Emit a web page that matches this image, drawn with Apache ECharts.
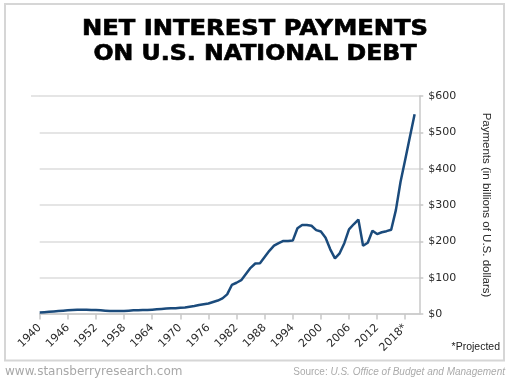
<!DOCTYPE html>
<html>
<head>
<meta charset="utf-8">
<script src="https://cdn.jsdelivr.net/npm/echarts@6/dist/echarts.min.js"></script>
<style>html,body{margin:0;padding:0;background:#fff;}#c{width:510px;height:382px;}</style>
</head>
<body>
<div id="c"></div>
<script>
// Categories: years 1940..2021
var years = [];
for (var y = 1940; y <= 2021; y++) years.push(String(y));

// Net interest payments, billions of USD, 1940..2020
var payments = [
  4, 5, 6, 7, 8, 9, 10, 11, 12, 12,          // 1940-1949
  12, 11, 11, 10, 9, 8, 8, 8, 8, 9,          // 1950-1959
  10, 10, 11, 11, 12, 13, 14, 15, 16, 16,    // 1960-1969
  17, 18, 20, 22, 25, 27, 29, 33, 37, 43,    // 1970-1979
  54, 80, 86, 93, 110, 127, 139, 140, 157, 174, // 1980-1989
  188, 195, 201, 201, 202, 236, 245, 245, 243, 231, // 1990-1999
  227, 210, 178, 153, 167, 195, 233, 247, 260, 188, // 2000-2009
  196, 229, 220, 225, 228, 232, 286, 364, 425, 488, // 2010-2019
  550, null                                    // 2020-2021
];

var yTicks = [0, 100, 200, 300, 400, 500, 600];
var projectedYear = '2018';

var titleLines = ['NET INTEREST PAYMENTS', 'ON U.S. NATIONAL DEBT'];
var titleWidths = [346, 323];

function measure(text, font) {
  var c = document.createElement('canvas').getContext('2d');
  c.font = font;
  return c.measureText(text).width;
}
var titleFont = 'bold 20.5px "DejaVu Sans"';

var chart = echarts.init(document.getElementById('c'), null, {renderer: 'canvas'});
var option = {
  animation: false,
  backgroundColor: '#fff',
  grid: {left: 39.7, right: 90.7, top: 96, bottom: 68},
  xAxis: {
    type: 'category',
    data: years,
    boundaryGap: false,
    axisLine: {lineStyle: {color: '#c8c8c8', width: 1.5}},
    axisTick: {interval: 5, length: 5.5, lineStyle: {color: '#c8c8c8', width: 1.5}},
    axisLabel: {
      interval: 5, rotate: 45, margin: 12, color: '#2a2a2a',
      fontFamily: 'DejaVu Sans', fontSize: 11,
      formatter: function (v) { return v === projectedYear ? v + '*' : v; }
    },
    splitLine: {show: false}
  },
  yAxis: {
    type: 'value',
    position: 'right',
    min: 0, max: 600, interval: 100,
    name: 'Payments (in billions of U.S. dollars)',
    nameLocation: 'middle',
    nameRotate: -90,
    nameGap: 61,
    nameTextStyle: {color: '#2a2a2a', fontFamily: 'Liberation Sans', fontSize: 11.5},
    axisLine: {show: true, lineStyle: {color: '#c8c8c8', width: 1.5}},
    axisTick: {show: true, length: 4, lineStyle: {color: '#c8c8c8', width: 1.5}},
    axisLabel: {
      margin: 9, color: '#2a2a2a', fontFamily: 'DejaVu Sans', fontSize: 11,
      formatter: function (v) { return '$' + v; }
    },
    splitLine: {lineStyle: {color: '#dcdcdc', width: 1.5}}
  },
  series: [{
    type: 'line',
    data: payments,
    showSymbol: false,
    symbol: 'none',
    lineStyle: {color: '#1b4b7c', width: 2.5},
    itemStyle: {color: '#1b4b7c'}
  }],
  graphic: [
    {type: 'rect', shape: {x: 5, y: 4, width: 499, height: 356.5}, style: {fill: 'none', stroke: '#d6d6d6', lineWidth: 2}, z: 0},
    {type: 'line', shape: {x1: 31, y1: 96, x2: 40, y2: 96}, style: {stroke: '#dcdcdc', lineWidth: 1.5}},
    {type: 'text', x: 255, y: 30, scaleX: titleWidths[0] / measure(titleLines[0], titleFont),
      style: {text: titleLines[0], font: titleFont, fill: '#000', stroke: '#000', lineWidth: 0.6, textAlign: 'center', textVerticalAlign: 'middle'}},
    {type: 'text', x: 255, y: 54.5, scaleX: titleWidths[1] / measure(titleLines[1], titleFont),
      style: {text: titleLines[1], font: titleFont, fill: '#000', stroke: '#000', lineWidth: 0.6, textAlign: 'center', textVerticalAlign: 'middle'}},
    {type: 'text', x: 500, y: 347, style: {text: '*Projected', font: '10.5px "Liberation Sans"', fill: '#222', textAlign: 'right', textVerticalAlign: 'middle'}},
    {type: 'text', x: 5, y: 372, style: {text: 'www.stansberryresearch.com', font: '12px "DejaVu Sans"', fill: '#a8a8a8', textAlign: 'left', textVerticalAlign: 'middle'}},
    {type: 'text', x: 505, y: 372, style: {
      text: '{a|Source: }{b|U.S. Office of Budget and Management}',
      textAlign: 'right', textVerticalAlign: 'middle',
      rich: {
        a: {font: '10px "Liberation Sans"', fill: '#ababab', color: '#ababab'},
        b: {font: 'italic 10px "Liberation Sans"', fill: '#ababab', color: '#ababab'}
      }
    }}
  ]
};
chart.setOption(option);
</script>
</body>
</html>
